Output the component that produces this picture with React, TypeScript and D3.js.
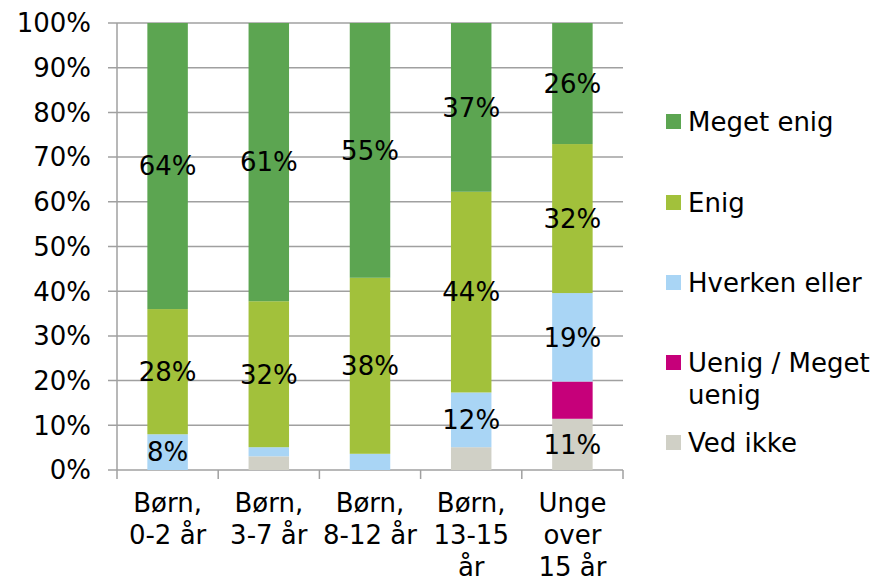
import { useMemo } from 'react';
import * as d3 from 'd3';

const categories = [
  ['Børn,', '0-2 år'],
  ['Børn,', '3-7 år'],
  ['Børn,', '8-12 år'],
  ['Børn,', '13-15', 'år'],
  ['Unge', 'over', '15 år'],
];

const seriesNames = ['Ved ikke', 'Uenig / Meget uenig', 'Hverken eller', 'Enig', 'Meget enig'];
const vedIkke = [0, 3, 0, 5, 11];
const uenig = [0, 0, 0, 0, 8];
const hverken = [8, 2, 3.5, 12, 19];
const enig = [28, 32, 38, 44, 32];
const megetEnig = [64, 61, 55, 37, 26];

const yTicks = [0, 0.1, 0.2, 0.3, 0.4, 0.5, 0.6, 0.7, 0.8, 0.9, 1];

const colors = ['#D0D0C6', '#C6007A', '#A9D5F5', '#A2C13B', '#5CA551'];
const labelledSeries = ['Ved ikke', 'Hverken eller', 'Enig', 'Meget enig'];

const W = 879;
const H = 584;
const margin = { left: 117, right: 256, top: 23, bottom: 114 };
const font = '"DejaVu Sans", Verdana, sans-serif';
const fs = 26;

export default function App() {
  const columns = [vedIkke, uenig, hverken, enig, megetEnig];

  const rows = useMemo(
    () =>
      categories.map((c, i) => {
        const row: Record<string, number | string> = { key: String(i) };
        seriesNames.forEach((s, j) => (row[s] = columns[j][i]));
        return row;
      }),
    []
  );

  const stacked = d3
    .stack<Record<string, number | string>>()
    .keys(seriesNames)
    .value((d, k) => d[k] as number)
    .offset(d3.stackOffsetExpand)(rows);

  const x = d3
    .scaleBand<string>()
    .domain(categories.map((_, i) => String(i)))
    .range([margin.left, W - margin.right])
    .paddingInner(0.6)
    .paddingOuter(0.3);
  const step = x.step();
  const y = d3.scaleLinear().domain([0, 1]).range([H - margin.bottom, margin.top]);
  const x0 = margin.left;
  const x1 = W - margin.right;
  const fmt = d3.format('.0%');

  const legendY = [122, 203, 283, 363, 443];
  const legendOrder = ['Meget enig', 'Enig', 'Hverken eller', 'Uenig / Meget uenig', 'Ved ikke'];
  const legendLines: Record<string, string[]> = { 'Uenig / Meget uenig': ['Uenig / Meget', 'uenig'] };

  return (
    <>
      <style>{`body{margin:0}`}</style>
      <svg width={W} height={H} style={{ display: 'block', background: '#fff' }} fontFamily={font}>
        {yTicks.map(t => (
          <g key={t}>
            <line x1={x0 - 9} x2={x1} y1={y(t)} y2={y(t)} stroke="#A0A0A0" strokeWidth={1.5} />
            <text x={91} y={y(t)} dy="0.36em" textAnchor="end" fontSize={fs} fill="#000">
              {fmt(t)}
            </text>
          </g>
        ))}
        {stacked.map((layer, j) => (
          <g key={layer.key} fill={colors[j]}>
            {layer.map((d, i) => (
              <rect
                key={i}
                x={x(String(i))}
                width={x.bandwidth()}
                y={y(d[1])}
                height={Math.max(0, y(d[0]) - y(d[1]))}
              />
            ))}
          </g>
        ))}
        <line x1={x0} x2={x0} y1={y(1)} y2={y(0)} stroke="#A0A0A0" strokeWidth={1.5} />
        {d3.range(categories.length + 1).map(i => (
          <line
            key={i}
            x1={x0 + i * step}
            x2={x0 + i * step}
            y1={y(0)}
            y2={y(0) + 9}
            stroke="#A0A0A0"
            strokeWidth={1.5}
          />
        ))}
        {stacked.map((layer, j) =>
          labelledSeries.includes(layer.key)
            ? layer.map((d, i) => {
                const v = columns[j][i];
                if (v < 8) return null;
                return (
                  <text
                    key={`${j}-${i}`}
                    x={(x(String(i)) ?? 0) + x.bandwidth() / 2}
                    y={(y(d[0]) + y(d[1])) / 2}
                    dy="0.36em"
                    textAnchor="middle"
                    fontSize={fs}
                    fill="#000"
                  >
                    {v}%
                  </text>
                );
              })
            : null
        )}
        {categories.map((lines, i) => (
          <text
            key={i}
            x={(x(String(i)) ?? 0) + x.bandwidth() / 2}
            y={503}
            textAnchor="middle"
            fontSize={fs}
            fill="#000"
          >
            {lines.map((l, k) => (
              <tspan key={k} x={(x(String(i)) ?? 0) + x.bandwidth() / 2} y={503 + k * 32} dy="0.36em">
                {l}
              </tspan>
            ))}
          </text>
        ))}
        {legendOrder.map((name, k) => {
          const j = seriesNames.indexOf(name);
          const lines = legendLines[name] ?? [name];
          return (
            <g key={name}>
              <rect x={666} y={legendY[k] - 8} width={15} height={15} fill={colors[j]} />
              <text x={688} y={legendY[k]} fontSize={fs} fill="#000">
                {lines.map((l, n) => (
                  <tspan key={n} x={688} y={legendY[k] + n * 32} dy="0.36em">
                    {l}
                  </tspan>
                ))}
              </text>
            </g>
          );
        })}
      </svg>
    </>
  );
}
